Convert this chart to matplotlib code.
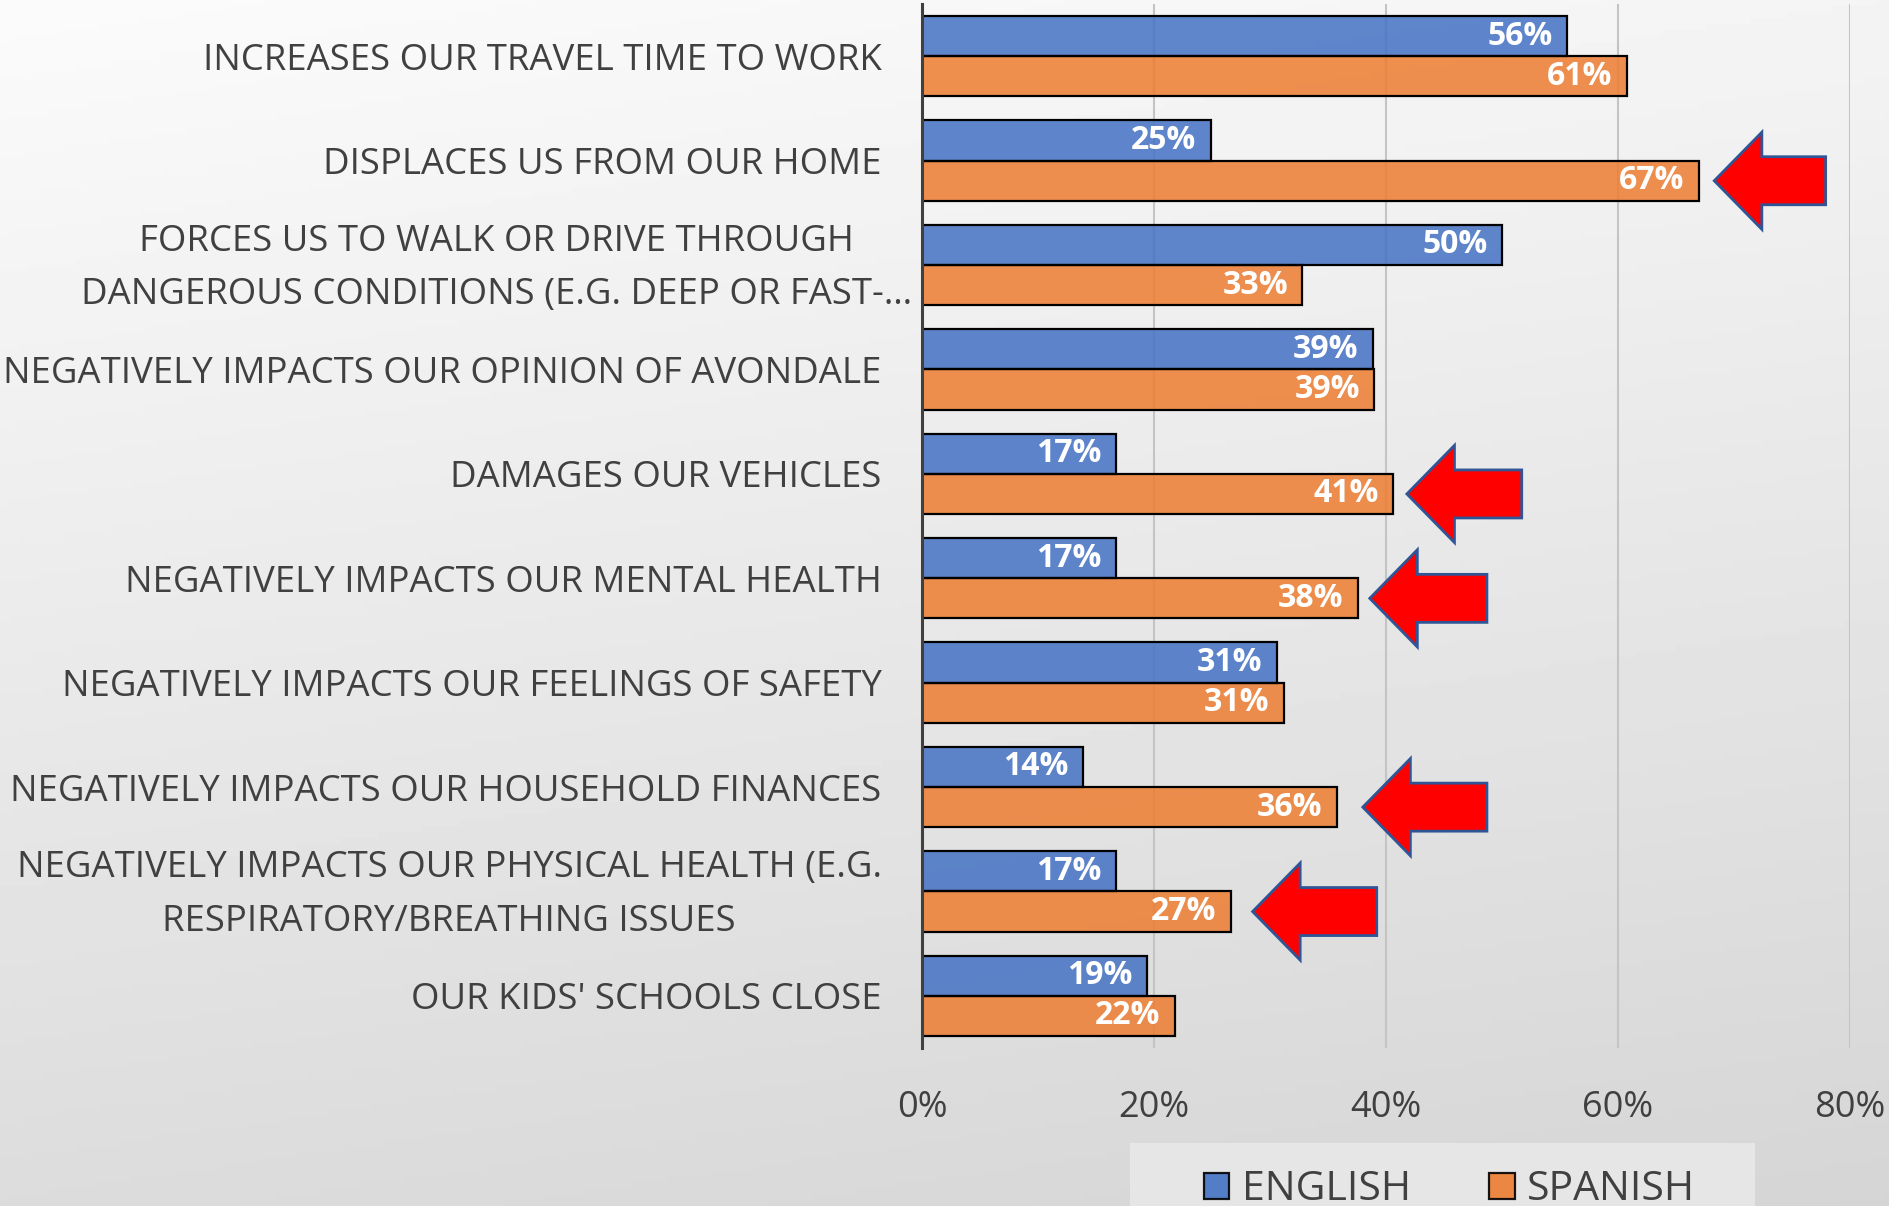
import numpy as np
import matplotlib
matplotlib.use("Agg")
import matplotlib.pyplot as plt
from matplotlib.patches import FancyArrow, Patch, Rectangle
from matplotlib.transforms import ScaledTranslation

plt.rcParams["font.family"] = ["Open Sans", "DejaVu Sans"]

# ---- data (share of respondents, %) ----
categories = [
    "INCREASES OUR TRAVEL TIME TO WORK",
    "DISPLACES US FROM OUR HOME",
    "FORCES US TO WALK OR DRIVE THROUGH\nDANGEROUS CONDITIONS (E.G. DEEP OR FAST-…",
    "NEGATIVELY IMPACTS OUR OPINION OF AVONDALE",
    "DAMAGES OUR VEHICLES",
    "NEGATIVELY IMPACTS OUR MENTAL HEALTH",
    "NEGATIVELY IMPACTS OUR FEELINGS OF SAFETY",
    "NEGATIVELY IMPACTS OUR HOUSEHOLD FINANCES",
    "NEGATIVELY IMPACTS OUR PHYSICAL HEALTH (E.G.\nRESPIRATORY/BREATHING ISSUES",
    "OUR KIDS' SCHOOLS CLOSE",
]
english = [55.6, 24.9, 50.0, 38.9, 16.7, 16.7, 30.6, 13.9, 16.7, 19.4]
spanish = [60.8, 67.0, 32.8, 39.0, 40.6, 37.6, 31.2, 35.8, 26.6, 21.8]
series_names = ["ENGLISH", "SPANISH"]
x_ticks = [0, 20, 40, 60, 80]

# red call-out arrows: (category index, tip x, tail x) in %
arrows = [(1, 68.3, 77.9), (4, 41.8, 51.7), (5, 38.6, 48.7),
          (7, 38.0, 48.7), (8, 28.5, 39.2)]

BLUE = "#4472C4"
ORANGE = "#ED7D31"
TXT = "#404040"

fig = plt.figure(figsize=(18.89, 12.06), dpi=100)

# slide-like grey gradient background
bg = fig.add_axes([0, 0, 1, 1], zorder=-10)
yy, xx = np.mgrid[0:1:200j, 0:1:300j]
grad = (251 - 31 * yy - 7 * xx) / 255.0
bg.imshow(grad, cmap="gray", vmin=0, vmax=1, aspect="auto",
          extent=[0, 1, 0, 1], origin="upper")
bg.axis("off")

ax = fig.add_axes([922 / 1889, 1 - 1048 / 1206, 928 / 1889, 1044 / 1206])
ax.patch.set_alpha(0)

y = np.arange(len(categories))
h = 0.386
ax.barh(y - h / 2, english, height=h, color=BLUE, alpha=0.85,
        linewidth=0, zorder=3)
ax.barh(y + h / 2, spanish, height=h, color=ORANGE, alpha=0.85,
        linewidth=0, zorder=3)
# opaque black outlines
ax.barh(y - h / 2, english, height=h, fill=False, edgecolor="black",
        linewidth=1.6, zorder=4)
ax.barh(y + h / 2, spanish, height=h, fill=False, edgecolor="black",
        linewidth=1.6, zorder=4)

for vals, off in ((english, -h / 2), (spanish, h / 2)):
    for i, v in enumerate(vals):
        ax.annotate(f"{v:.0f}%", (v, i + off), xytext=(-10.5, 0),
                    textcoords="offset points", ha="right", va="center",
                    color="white", fontsize=23, fontweight="bold", zorder=5)

for idx, tip, tail in arrows:
    ax.add_patch(FancyArrow(tail, idx + h / 2, tip - tail, 0, width=0.46,
                            head_width=0.93, head_length=4.1,
                            length_includes_head=True, facecolor="#FF0000",
                            edgecolor="#2F5597", linewidth=2, zorder=6))

ax.set_xlim(0, 80)
ax.set_ylim(len(categories) - 0.5, -0.5)
ax.set_xticks(x_ticks)
ax.set_xticklabels([f"{t}%" for t in x_ticks])
ax.set_yticks(y)
ax.set_yticklabels(categories, multialignment="center", linespacing=1.66)
ax.tick_params(axis="x", length=0, pad=30, labelsize=26, colors=TXT)
ax.tick_params(axis="y", length=0, pad=29, labelsize=26.3, colors=TXT)
for i, lab in enumerate(ax.get_yticklabels()):
    if "\n" in lab.get_text():
        lab.set_va("center")
        # the long first two-line label sits a bit further right in the original
        dx = 0.30 if i == 2 else 0.0
        lab.set_transform(lab.get_transform()
                          + ScaledTranslation(dx, -0.035, fig.dpi_scale_trans))

ax.grid(axis="x", color="#C4C4C4", linewidth=1.5, zorder=0)
ax.set_axisbelow(True)
for s in ("top", "right", "bottom"):
    ax.spines[s].set_visible(False)
ax.spines["left"].set_color(TXT)
ax.spines["left"].set_linewidth(2.2)
ax.spines["left"].set_zorder(7)

# legend box (runs off the bottom edge)
fig.patches.append(Rectangle((1130 / 1889, -0.05), 625 / 1889, 0.05 + 1 - 1143 / 1206,
                             transform=fig.transFigure, facecolor="#E6E6E6",
                             edgecolor="none", zorder=1))
handles = [Patch(facecolor=BLUE, alpha=0.9, edgecolor="black", linewidth=1.6),
           Patch(facecolor=ORANGE, alpha=0.9, edgecolor="black", linewidth=1.6)]
leg = fig.legend(handles, series_names, loc="center left",
                 bbox_to_anchor=(1204 / 1889, 1 - 1190 / 1206), ncol=2,
                 frameon=False, fontsize=29.5, handlelength=0.62, handleheight=0.62,
                 handletextpad=0.3, columnspacing=1.92, borderpad=0,
                 borderaxespad=0)
for t in leg.get_texts():
    t.set_color(TXT)

fig.savefig("out.png", dpi=100)
